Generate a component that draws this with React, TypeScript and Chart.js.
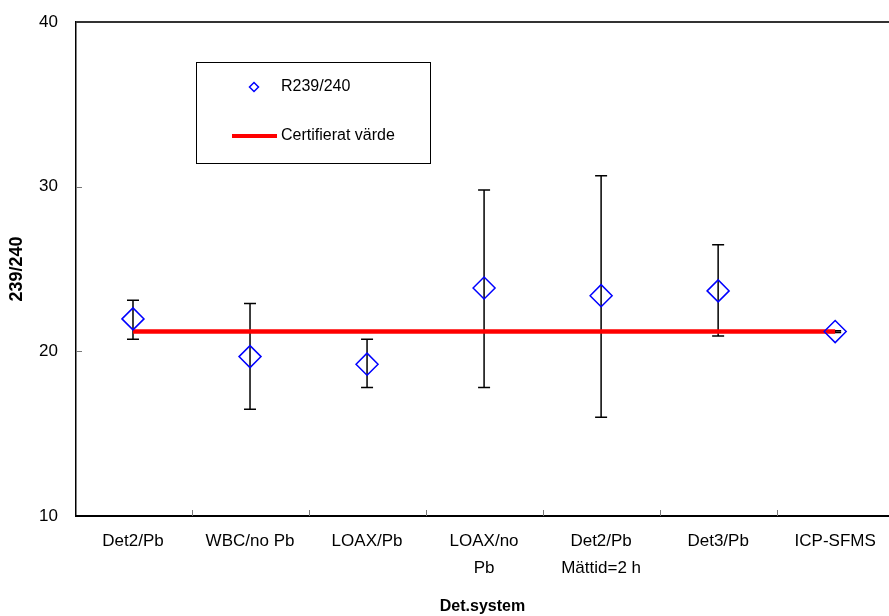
import { useEffect, useRef } from "react";
import { Chart, registerables } from "chart.js";

Chart.register(...registerables);

// ---- data ----
const categories: string[][] = [
  ["Det2/Pb"],
  ["WBC/no Pb"],
  ["LOAX/Pb"],
  ["LOAX/no", "Pb"],
  ["Det2/Pb", "Mättid=2 h"],
  ["Det3/Pb"],
  ["ICP-SFMS"],
];
const ratioValues = [21.97, 19.68, 19.22, 23.85, 23.38, 23.67, 21.2];
const errorHigh = [23.1, 22.9, 20.73, 29.8, 30.67, 26.48, 21.25];
const errorLow = [20.73, 16.48, 17.8, 17.8, 16.0, 20.93, 21.15];
const certifiedValue = 21.2;
const yTickValues = [10, 20, 30, 40];
const seriesLabel = "R239/240";
const certLabel = "Certifierat värde";
const xTitle = "Det.system";
const yTitle = "239/240";

const FONT = "Arial, 'Liberation Sans', sans-serif";

const extrasPlugin = {
  id: "extras",
  beforeDatasetsDraw(chart: any) {
    const { ctx, scales } = chart;
    const x = scales.x;
    const y = scales.y;
    ctx.save();
    ctx.strokeStyle = "#000";
    ctx.lineWidth = 1.5;
    ratioValues.forEach((_, i) => {
      const px = x.getPixelForValue(i + 1);
      const top = y.getPixelForValue(errorHigh[i]);
      const bot = y.getPixelForValue(errorLow[i]);
      ctx.beginPath();
      ctx.moveTo(px, top);
      ctx.lineTo(px, bot);
      ctx.moveTo(px - 6, top);
      ctx.lineTo(px + 6, top);
      ctx.moveTo(px - 6, bot);
      ctx.lineTo(px + 6, bot);
      ctx.stroke();
    });
    ctx.restore();
  },
  afterDraw(chart: any) {
    const { ctx, chartArea, scales } = chart;
    const x = scales.x;
    const y = scales.y;
    ctx.save();
    // top frame line
    ctx.strokeStyle = "#333";
    ctx.lineWidth = 2;
    ctx.beginPath();
    ctx.moveTo(chartArea.left, chartArea.top);
    ctx.lineTo(chartArea.right, chartArea.top);
    ctx.stroke();
    // inward tick marks
    ctx.strokeStyle = "#777";
    ctx.lineWidth = 1;
    for (let i = 1; i < categories.length; i++) {
      const px = Math.round(x.getPixelForValue(i + 0.5)) + 0.5;
      ctx.beginPath();
      ctx.moveTo(px, chartArea.bottom);
      ctx.lineTo(px, chartArea.bottom - 6);
      ctx.stroke();
    }
    yTickValues.slice(1, -1).forEach((v) => {
      const py = Math.round(y.getPixelForValue(v)) + 0.5;
      ctx.beginPath();
      ctx.moveTo(chartArea.left, py);
      ctx.lineTo(chartArea.left + 6, py);
      ctx.stroke();
    });
    // legend
    const lx = 196, ly = 62, lw = 234, lh = 101;
    ctx.fillStyle = "#fff";
    ctx.fillRect(lx, ly, lw, lh);
    ctx.strokeStyle = "#000";
    ctx.lineWidth = 1;
    ctx.strokeRect(lx + 0.5, ly + 0.5, lw, lh);
    // diamond
    const dx = 254, dy = 87, r = 4.5;
    ctx.strokeStyle = "#0000FF";
    ctx.lineWidth = 1.5;
    ctx.beginPath();
    ctx.moveTo(dx, dy - r);
    ctx.lineTo(dx + r, dy);
    ctx.lineTo(dx, dy + r);
    ctx.lineTo(dx - r, dy);
    ctx.closePath();
    ctx.stroke();
    // red line
    ctx.strokeStyle = "#FF0000";
    ctx.lineWidth = 4;
    ctx.beginPath();
    ctx.moveTo(232, 136);
    ctx.lineTo(277, 136);
    ctx.stroke();
    ctx.fillStyle = "#000";
    ctx.font = `16px ${FONT}`;
    ctx.textBaseline = "middle";
    ctx.textAlign = "left";
    ctx.fillText(seriesLabel, 281, 87);
    ctx.fillText(certLabel, 281, 136);
    ctx.restore();
  },
};

export default function App() {
  const canvasRef = useRef<HTMLCanvasElement | null>(null);

  useEffect(() => {
    document.body.style.margin = "0";
    const canvas = canvasRef.current;
    if (!canvas) return;
    const chart = new Chart(canvas, {
      type: "scatter",
      data: {
        datasets: [
          {
            label: seriesLabel,
            data: ratioValues.map((v, i) => ({ x: i + 1, y: v })),
            pointStyle: "rectRot",
            pointRadius: 11,
            pointHoverRadius: 11,
            pointBorderColor: "#0000FF",
            pointBackgroundColor: "rgba(0,0,0,0)",
            pointBorderWidth: 1.5,
            showLine: false,
            order: 0,
          },
          {
            type: "line",
            label: certLabel,
            data: [
              { x: 1, y: certifiedValue },
              { x: categories.length, y: certifiedValue },
            ],
            borderColor: "#FF0000",
            borderWidth: 4.5,
            pointRadius: 0,
            fill: false,
            order: 1,
          } as any,
        ],
      },
      options: {
        animation: false,
        responsive: false,
        maintainAspectRatio: false,
        devicePixelRatio: 1,
        layout: { autoPadding: false, padding: { left: 0, right: 0, top: 22, bottom: 0 } },
        plugins: {
          legend: { display: false },
          tooltip: { enabled: false },
        },
        scales: {
          x: {
            type: "linear",
            min: 0.513,
            max: 7.46,
            afterBuildTicks: (scale: any) => {
              scale.ticks = categories.map((_, i) => ({ value: i + 1 }));
            },
            afterFit: (scale: any) => {
              scale.height = 100;
              scale.paddingLeft = 0;
              scale.paddingRight = 0;
            },
            grid: { display: false, drawTicks: false },
            border: { display: true, color: "#000", width: 2 },
            ticks: {
              autoSkip: false,
              maxRotation: 0,
              minRotation: 0,
              padding: 12,
              color: "#000",
              font: { family: FONT, size: 17, lineHeight: 1.6 },
              callback: (value: any) => categories[Math.round(value) - 1] ?? "",
            },
            title: {
              display: true,
              text: xTitle,
              color: "#000",
              font: { family: FONT, size: 16, weight: "bold", lineHeight: 1.2 },
              padding: { top: 0, bottom: 0 },
            },
          },
          y: {
            type: "linear",
            min: 10,
            max: 40,
            afterBuildTicks: (scale: any) => {
              scale.ticks = yTickValues.map((v) => ({ value: v }));
            },
            afterFit: (scale: any) => {
              scale.width = 76;
              scale.paddingTop = 0;
              scale.paddingBottom = 0;
            },
            grid: { display: false, drawTicks: false },
            border: { display: true, color: "#000", width: 1.5 },
            ticks: {
              padding: 18,
              color: "#000",
              font: { family: FONT, size: 17 },
            },
            title: {
              display: true,
              text: yTitle,
              color: "#000",
              font: { family: FONT, size: 18, weight: "bold", lineHeight: 1.2 },
              padding: { top: 6, bottom: 0 },
            },
          },
        },
      },
      plugins: [extrasPlugin],
    });
    return () => chart.destroy();
  }, []);

  return (
    <div
      style={{
        position: "fixed",
        left: 0,
        top: 0,
        width: 889,
        height: 616,
        overflow: "hidden",
        background: "#fff",
      }}
    >
      <canvas ref={canvasRef} width={889} height={616} style={{ display: "block" }} />
    </div>
  );
}
